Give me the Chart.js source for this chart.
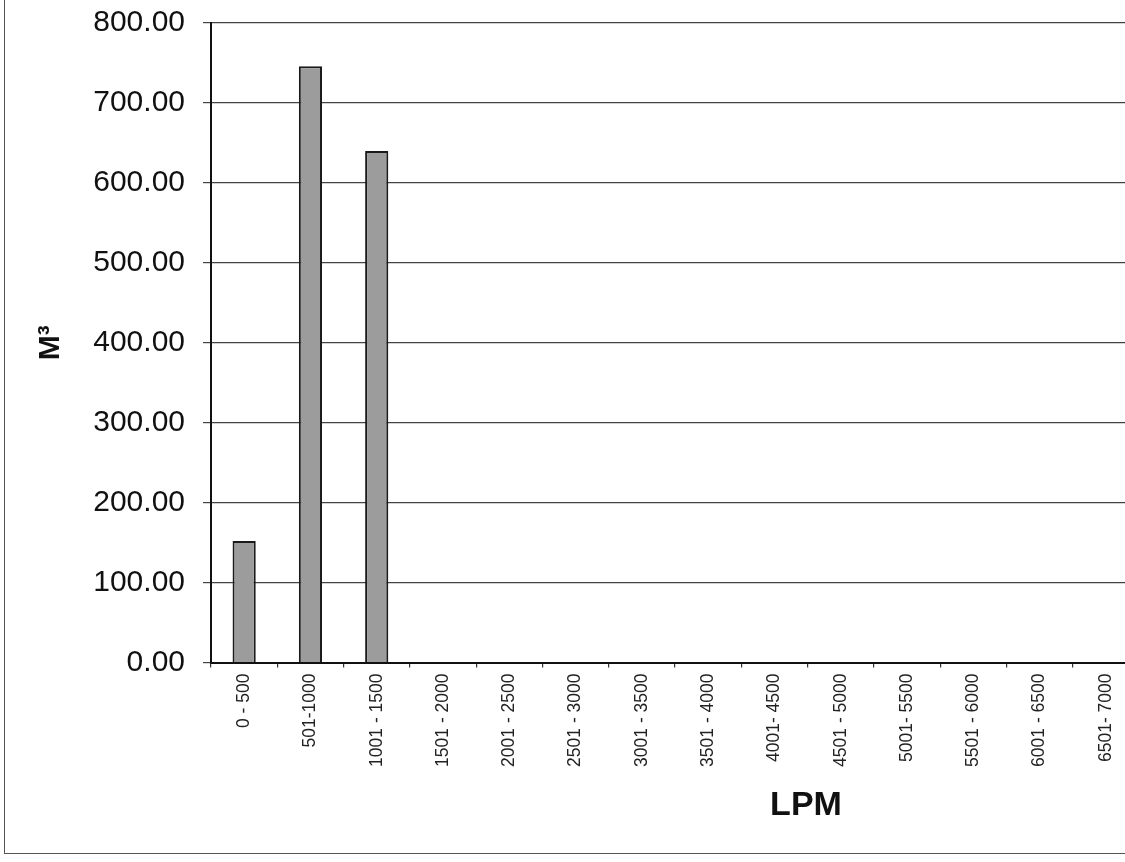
<!DOCTYPE html>
<html>
<head>
<meta charset="utf-8">
<script src="https://cdn.jsdelivr.net/npm/chart.js@4.4.1/dist/chart.umd.min.js"></script>
<style>
  html, body { margin: 0; padding: 0; background: #fff; overflow: hidden; width: 1125px; height: 862px; }
  #wrap { position: relative; width: 1125px; height: 862px; overflow: hidden; }
  #frame { position: absolute; left: 4px; top: -4px; width: 1200px; height: 858px; border: 1.5px solid #555; box-sizing: border-box; pointer-events: none; }
  #c { position: absolute; left: 0; top: 0; }
  #xtitle { position: absolute; left: 806px; top: 803px; transform: translate(-50%, -50%);
    font: bold 34px "Liberation Sans", Arial, sans-serif; color: #111; white-space: nowrap; }
</style>
</head>
<body>
<div id="wrap">
  <canvas id="c" width="1140" height="862"></canvas>
  <div id="frame"></div>
  <div id="xtitle">LPM</div>
</div>
<script>
const categories = ["0 - 500", "501-1000", "1001 - 1500", "1501 - 2000", "2001 - 2500", "2501 - 3000", "3001 - 3500", "3501 - 4000", "4001- 4500", "4501 - 5000", "5001- 5500", "5501 - 6000", "6001 - 6500", "6501- 7000"];
const volumes = [152, 746, 640, 0, 0, 0, 0, 0, 0, 0, 0, 0, 0, 0];
const yTickValues = [0, 100, 200, 300, 400, 500, 600, 700, 800];
const yTitle = "M³";

new Chart(document.getElementById('c'), {
  type: 'bar',
  data: {
    labels: categories,
    datasets: [{
      data: volumes,
      backgroundColor: '#9c9c9c',
      borderColor: '#1a1a1a',
      borderWidth: 2,
      borderSkipped: 'start',
      categoryPercentage: 1,
      barPercentage: 0.35
    }]
  },
  options: {
    responsive: false,
    devicePixelRatio: 1,
    animation: false,
    layout: { padding: { top: 23, right: 1, bottom: 0, left: 0 } },
    plugins: { legend: { display: false }, tooltip: { enabled: false } },
    scales: {
      x: {
        grid: { display: true, drawOnChartArea: false, drawTicks: true, tickLength: 5, color: '#333', lineWidth: 1.2, offset: true },
        border: { display: true, color: '#111', width: 2 },
        ticks: {
          autoSkip: false, minRotation: 90, maxRotation: 90, padding: 6,
          color: '#222', font: { family: '"Liberation Sans", Arial, sans-serif', size: 17.5 }
        },
        afterFit: (s) => { s.height = 199.5; s.paddingLeft = 0; s.paddingRight = 0; }
      },
      y: {
        min: 0, max: 800,
        afterBuildTicks: (s) => { s.ticks = yTickValues.map(v => ({ value: v })); },
        grid: { display: true, drawOnChartArea: true, drawTicks: true, tickLength: 8, color: '#444', lineWidth: 1.2 },
        border: { display: true, color: '#111', width: 2 },
        ticks: {
          padding: 18, color: '#111',
          font: { family: '"Liberation Sans", Arial, sans-serif', size: 30 },
          callback: (v) => Number(v).toFixed(2)
        },
        title: {
          display: true, text: yTitle, color: '#111',
          font: { family: '"Liberation Sans", Arial, sans-serif', size: 30, weight: 'bold', lineHeight: 1 },
          padding: { top: 36, bottom: 0 }
        },
        afterFit: (s) => { s.width = 211; s.paddingTop = 0; s.paddingBottom = 0; }
      }
    }
  }
});
</script>
</body>
</html>
